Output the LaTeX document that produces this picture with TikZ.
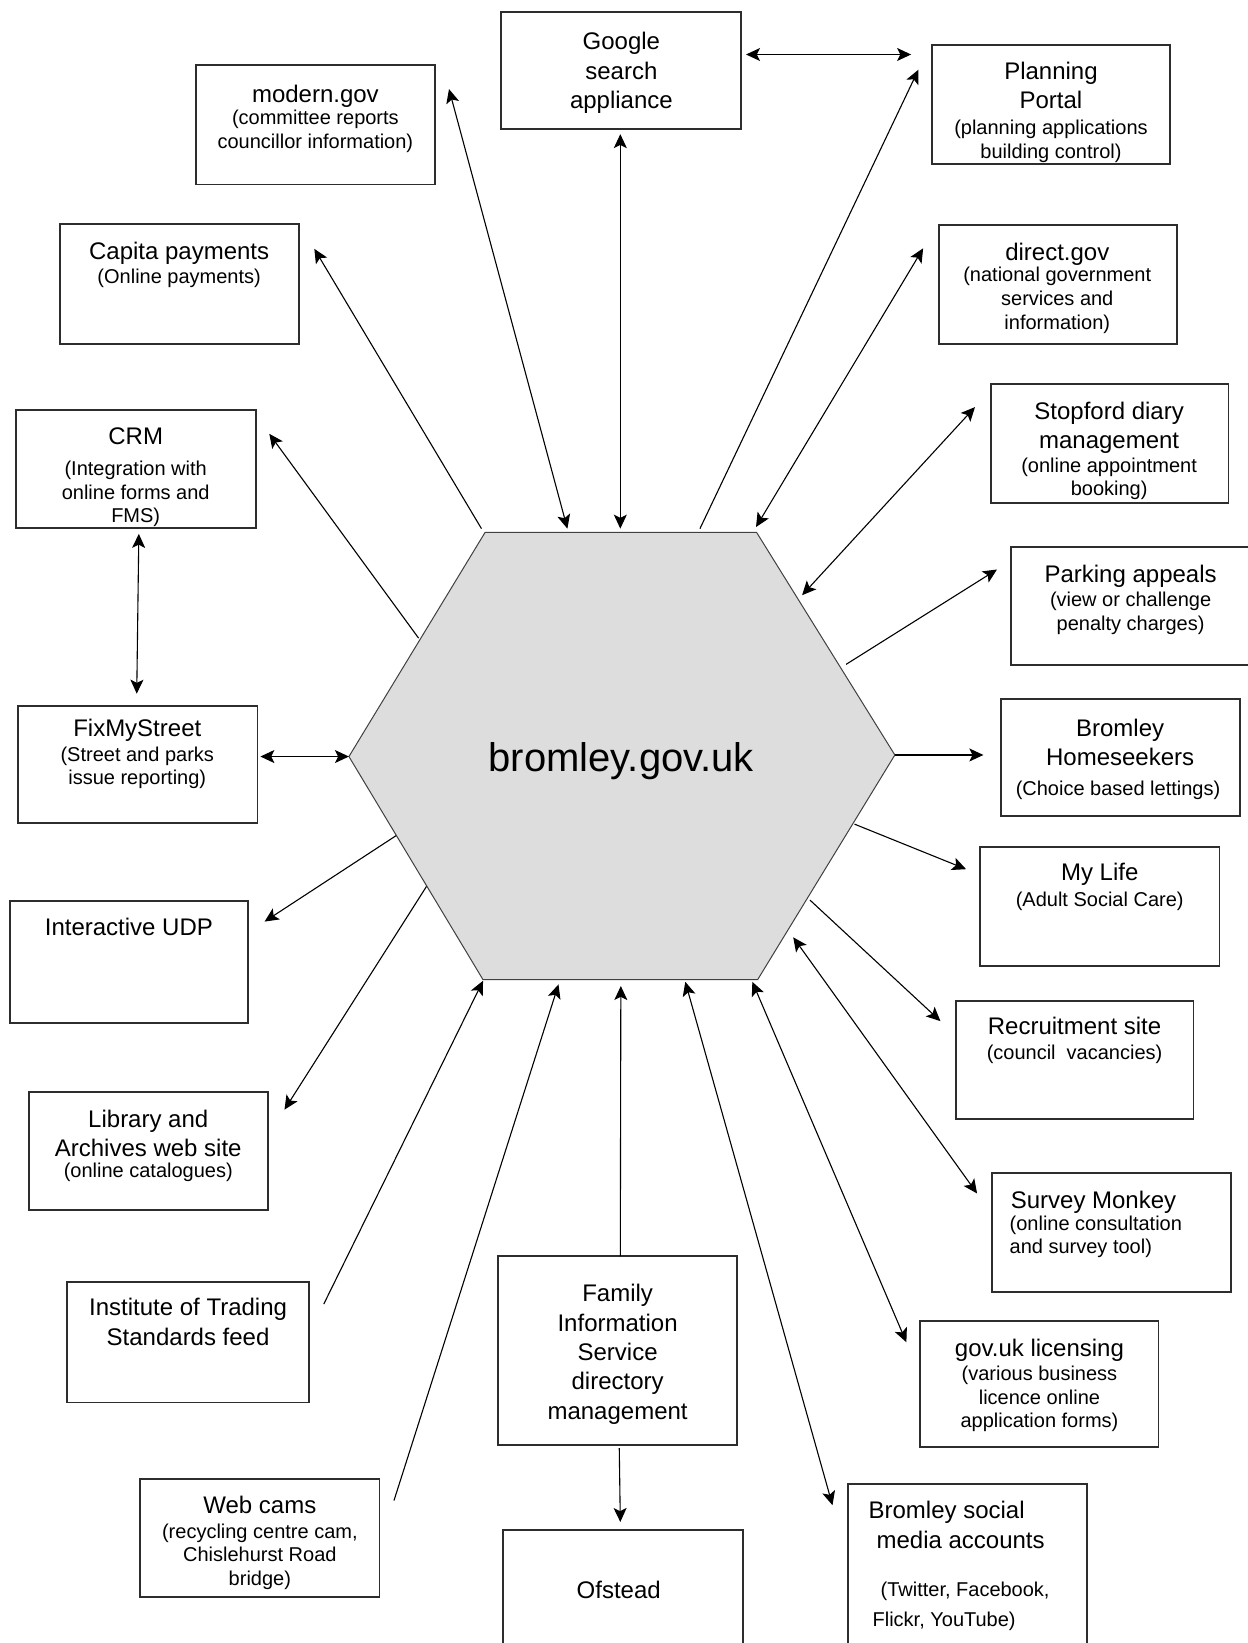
\documentclass[tikz,border=0pt]{standalone}
\usepackage{fontspec}
\setmainfont{Liberation Sans}
\usepackage{xcolor}
\usetikzlibrary{arrows.meta,fit}
\definecolor{hubGray}{RGB}{221,221,221}
\definecolor{boxLine}{RGB}{45,45,45}

\begin{document}
\begin{tikzpicture}[x=0.524pt,y=-0.524pt,
  >={Stealth[length=7pt,width=6.5pt,inset=1.6pt]},
  svc/.style={draw=boxLine, line width=0.9pt, inner sep=0pt},
  svcname/.style={font=\fontsize{12}{14.7}\selectfont, align=center, inner sep=0pt, anchor=north},
  svcnote/.style={font=\fontsize{10}{11.8}\selectfont, align=center, inner sep=0pt, anchor=north},
  hubname/.style={font=\fontsize{20}{23}\selectfont, inner sep=0pt, anchor=base},
  flow/.style={line width=0.55pt}]
\useasboundingbox (0,0) rectangle (1191,1568);
\clip (0,0) rectangle (1191,1568);

% hexagon
\coordinate (hex-tl) at (463,508);
\coordinate (hex-tr) at (722,508);
\coordinate (hex-r) at (854,720.5);
\coordinate (hex-br) at (723,935);
\coordinate (hex-bl) at (461,935);
\coordinate (hex-l) at (333,722);
\draw[fill=hubGray, draw=black!75, line width=0.5pt] (hex-tl) -- (hex-tr) -- (hex-r) -- (hex-br) -- (hex-bl) -- (hex-l) -- cycle;
\node[hubname] (hub) at (593,736.7) {bromley.gov.uk};

% boxes
\node[svc, fit={(478,11.5) (707.5,123)}] (google) {};
\node[svc, fit={(889.5,43.3) (1116.6,156.8)}] (planning) {};
\node[svc, fit={(187,62.4) (415,176)}] (modern) {};
\node[svc, fit={(57,214) (285,328)}] (capita) {};
\node[svc, fit={(896,214.7) (1123,328)}] (direct) {};
\node[svc, fit={(15,391) (244,504)}] (crm) {};
\node[svc, fit={(945.5,366.4) (1172.5,480)}] (stopford) {};
\node[svc, fit={(965,522) (1193,634.6)}] (parking) {};
\node[svc, fit={(16.8,673.7) (245.8,785.6)}] (fix) {};
\node[svc, fit={(955,667) (1183.3,778.4)}] (homes) {};
\node[svc, fit={(935.2,808.3) (1163.8,921.6)}] (mylife) {};
\node[svc, fit={(9.7,859.5) (236.5,976.5)}] (udp) {};
\node[svc, fit={(912,955) (1139,1068)}] (recruit) {};
\node[svc, fit={(27.3,1041.9) (255.9,1154.7)}] (library) {};
\node[svc, fit={(947,1119.3) (1174.5,1232.8)}] (survey) {};
\node[svc, fit={(64.3,1223.6) (294.9,1338.4)}] (trading) {};
\node[svc, fit={(475.2,1199) (703.6,1379.1)}] (family) {};
\node[svc, fit={(878.3,1260.7) (1105.6,1381)}] (licence) {};
\node[svc, fit={(133.6,1411.1) (362.2,1524.2)}] (webcams) {};
\node[svc, fit={(480.3,1460.2) (709,1600)}] (ofstead) {};
\node[svc, fit={(809.5,1416.5) (1037,1600)}] (social) {};

% box texts
\node[svcname] (google-t) at (593,30.7) {Google\\search\\appliance};
\node[svcname] (planning-t) at (1003,58.6) {Planning\\Portal};
\node[svcnote] (planning-n) at (1003,114.2) {(planning applications\\building control)};
\node[svcname] (modern-t) at (301,80.8) {modern.gov};
\node[svcnote] (modern-n) at (301,105) {(committee reports\\councillor information)};
\node[svcname] (capita-t) at (171,231) {Capita payments};
\node[svcnote] (capita-n) at (171,256) {(Online payments)};
\node[svcname] (direct-t) at (1009,231.8) {direct.gov};
\node[svcnote] (direct-n) at (1009,254.9) {(national government\\services and\\information)};
\node[svcname] (crm-t) at (129.5,408) {CRM};
\node[svcnote] (crm-n) at (129.5,439.7) {(Integration with\\online forms and\\FMS)};
\node[svcname] (stopford-t) at (1058.5,383.4) {Stopford diary\\management};
\node[svcnote] (stopford-n) at (1058.5,436.3) {(online appointment\\booking)};
\node[svcname] (parking-t) at (1079,539.2) {Parking appeals};
\node[svcnote] (parking-n) at (1079,564.7) {(view or challenge\\penalty charges)};
\node[svcname] (fix-t) at (131,685.7) {FixMyStreet};
\node[svcnote] (fix-n) at (131,712.3) {(Street and parks\\issue reporting)};
\node[svcname] (homes-t) at (1069,685.7) {Bromley\\Homeseekers};
\node[svcnote] (homes-n) at (1067,745.3) {(Choice based lettings)};
\node[svcname] (mylife-t) at (1049.5,823.7) {My Life};
\node[svcnote] (mylife-n) at (1049.5,851) {(Adult Social Care)};
\node[svcname] (udp-t) at (123,876) {Interactive UDP};
\node[svcname] (recruit-t) at (1025.5,970.3) {Recruitment site};
\node[svcnote] (recruit-n) at (1025.5,996.6) {(council\ \ vacancies)};
\node[svcname] (library-t) at (141.5,1058.7) {Library and\\Archives web site};
\node[svcnote] (library-n) at (141.5,1109.2) {(online catalogues)};
\node[svcname, anchor=north west] (survey-t) at (964.3,1136.1) {Survey Monkey};
\node[svcnote, align=left, anchor=north west] (survey-n) at (963.2,1159.7) {(online consultation\\and survey tool)};
\node[svcname] (trading-t) at (179.5,1238.8) {Institute of Trading\\Standards feed};
\node[svcname] (family-t) at (589.4,1225.3) {Family\\Information\\Service\\directory\\management};
\node[svcname] (licence-t) at (992,1277.5) {gov.uk licensing};
\node[svcnote] (licence-n) at (992,1303.4) {(various business\\licence online\\application forms)};
\node[svcname] (webcams-t) at (248,1427.3) {Web cams};
\node[svcnote] (webcams-n) at (248,1453.6) {(recycling centre cam,\\Chislehurst Road\\bridge)};
\node[svcname] (ofstead-t) at (590.5,1508.1) {Ofstead};
\node[svcname, align=left, anchor=north west] (social-t) at (828.6,1432.3) {Bromley social\\\hspace*{4pt}media accounts};
\node[svcnote, font=\fontsize{10}{15}\selectfont, align=left, anchor=north west] (social-n) at (832.4,1509.7) {\hspace*{4pt}(Twitter, Facebook,\\Flickr, YouTube)};

% arrow ends near the boxes
\coordinate (modern-end) at (428.5,85);
\coordinate (google-end) at (592,128);
\coordinate (google-side) at (712,52);
\coordinate (planning-side) at (869.5,52);
\coordinate (planning-end) at (876.5,66.5);
\coordinate (direct-end) at (881,237);
\coordinate (stopford-end) at (930.5,388.5);
\coordinate (parking-end) at (951.5,543.5);
\coordinate (homes-end) at (938.5,720.5);
\coordinate (mylife-end) at (922,829.5);
\coordinate (recruit-end) at (897.5,974.5);
\coordinate (survey-end) at (932.5,1139);
\coordinate (licence-end) at (865,1281);
\coordinate (social-end) at (794.5,1436.5);
\coordinate (family-top) at (592,1199);
\coordinate (family-bot) at (591,1382);
\coordinate (ofstead-end) at (592,1452.5);
\coordinate (webcams-end) at (376,1432);
\coordinate (trading-end) at (309,1244.5);
\coordinate (library-end) at (271.5,1059);
\coordinate (udp-end) at (252.5,879.5);
\coordinate (fix-end) at (248.5,722);
\coordinate (crm-bot) at (132.5,509.5);
\coordinate (fix-top) at (130.5,662);
\coordinate (crm-end) at (257,414);
\coordinate (capita-end) at (300,237.5);
% arrow ends on the hexagon
\coordinate (modern-hub) at (541.5,504.5);
\coordinate (google-hub) at (592,504.5);
\coordinate (planning-hub) at (668,504.5);
\coordinate (direct-hub) at (721.5,503);
\coordinate (stopford-hub) at (765.5,568);
\coordinate (parking-hub) at (807.5,634);
\coordinate (mylife-hub) at (815.5,786.5);
\coordinate (recruit-hub) at (773,859);
\coordinate (survey-hub) at (757,894.5);
\coordinate (licence-hub) at (718,937);
\coordinate (social-hub) at (654,937);
\coordinate (family-hub) at (592.5,941);
\coordinate (webcams-hub) at (533,939.5);
\coordinate (trading-hub) at (461,936);
\coordinate (library-hub) at (407,846);
\coordinate (udp-hub) at (378,797.5);
\coordinate (crm-hub) at (399.5,609);
\coordinate (capita-hub) at (459.5,504.5);

% connectors
\draw[flow, <->] (modern-end) -- (modern-hub);
\draw[flow, <->] (google-end) -- (google-hub);
\draw[flow, <->] (google-side) -- (planning-side);
\draw[flow, ->] (planning-hub) -- (planning-end);
\draw[flow, <->] (direct-end) -- (direct-hub);
\draw[flow, <->] (stopford-end) -- (stopford-hub);
\draw[flow, ->] (parking-hub) -- (parking-end);
\draw[flow, ->] (hex-r) -- (homes-end);
\draw[flow, ->] (mylife-hub) -- (mylife-end);
\draw[flow, ->] (recruit-hub) -- (recruit-end);
\draw[flow, <->] (survey-hub) -- (survey-end);
\draw[flow, <->] (licence-hub) -- (licence-end);
\draw[flow, <->] (social-hub) -- (social-end);
\draw[flow, ->] (family-top) -- (family-hub);
\draw[flow, ->] (family-bot) -- (ofstead-end);
\draw[flow, ->] (webcams-end) -- (webcams-hub);
\draw[flow, ->] (trading-end) -- (trading-hub);
\draw[flow, ->] (library-hub) -- (library-end);
\draw[flow, ->] (udp-hub) -- (udp-end);
\draw[flow, <->] (fix-end) -- (hex-l);
\draw[flow, <->] (crm-bot) -- (fix-top);
\draw[flow, ->] (crm-hub) -- (crm-end);
\draw[flow, ->] (capita-hub) -- (capita-end);
\end{tikzpicture}
\end{document}
